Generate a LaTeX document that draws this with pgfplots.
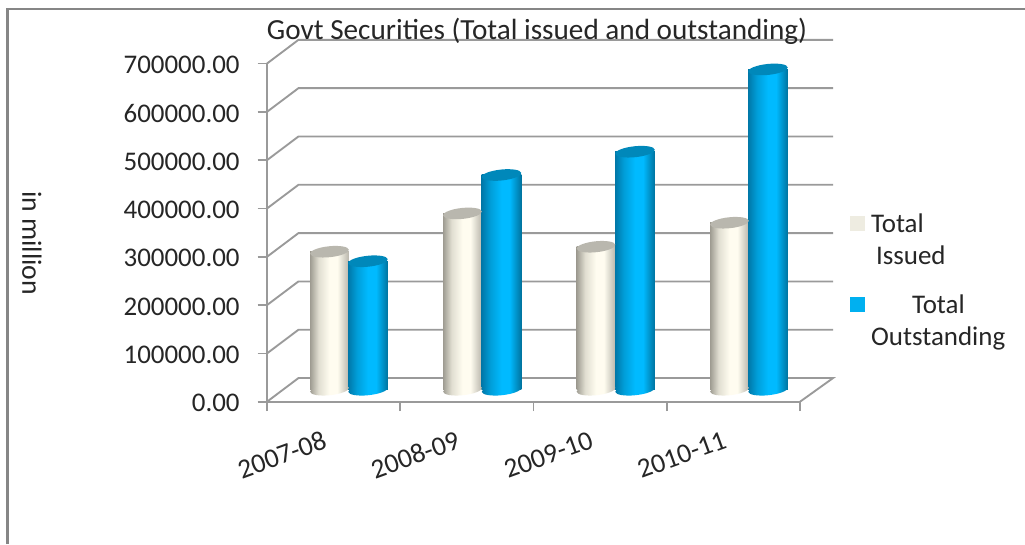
\documentclass[border=0pt]{standalone}
\usepackage{fontspec}
\setmainfont{Carlito}
\usepackage{pgfplots}
\pgfplotsset{compat=1.18}

\definecolor{axisgray}{HTML}{9A9A9A}
\definecolor{framegray}{HTML}{868686}
\definecolor{textdark}{HTML}{262626}
\definecolor{issuedkey}{HTML}{EEECE1}
\definecolor{outstandingkey}{HTML}{00B0F0}
\definecolor{issuedtop}{HTML}{B9B7AE}
\definecolor{outstandingtop}{HTML}{0088BA}

% Horizontal light falloff across a cylinder; the path spans 25bp to 75bp.
\pgfdeclarehorizontalshading{issuedcyl}{100bp}{
  rgb(0bp)=(0.62,0.61,0.57);
  rgb(25bp)=(0.62,0.61,0.57);
  rgb(36bp)=(0.88,0.87,0.82);
  rgb(50bp)=(1.00,0.99,0.94);
  rgb(60bp)=(1.00,0.99,0.94);
  rgb(75bp)=(0.72,0.71,0.67);
  rgb(100bp)=(0.72,0.71,0.67)}
\pgfdeclarehorizontalshading{outstandingcyl}{100bp}{
  rgb(0bp)=(0.00,0.47,0.66);
  rgb(25bp)=(0.00,0.47,0.66);
  rgb(36bp)=(0.00,0.62,0.85);
  rgb(50bp)=(0.00,0.73,1.00);
  rgb(60bp)=(0.00,0.73,1.00);
  rgb(75bp)=(0.00,0.45,0.62);
  rgb(100bp)=(0.00,0.45,0.62)}

% Cylinder ends, tilted slightly: flat-coloured tops and shaded bottoms.
\pgfdeclareplotmark{issuedcap}{%
  \pgfsetfillcolor{issuedtop}%
  \pgfpathellipse{\pgfpointorigin}{\pgfpoint{14.5pt}{1.5pt}}{\pgfpoint{-0.43pt}{4.08pt}}%
  \pgfusepathqfill}
\pgfdeclareplotmark{outstandingcap}{%
  \pgfsetfillcolor{outstandingtop}%
  \pgfpathellipse{\pgfpointorigin}{\pgfpoint{14.8pt}{1.55pt}}{\pgfpoint{-0.43pt}{4.08pt}}%
  \pgfusepathqfill}
\pgfdeclareplotmark{issuedfoot}{%
  \pgfpathellipse{\pgfpointorigin}{\pgfpoint{14.5pt}{1.5pt}}{\pgfpoint{-0.43pt}{4.08pt}}%
  \pgfshadepath{issuedcyl}{0}%
  \pgfusepath{discard}}
\pgfdeclareplotmark{outstandingfoot}{%
  \pgfpathellipse{\pgfpointorigin}{\pgfpoint{14.8pt}{1.55pt}}{\pgfpoint{-0.43pt}{4.08pt}}%
  \pgfshadepath{outstandingcyl}{0}%
  \pgfusepath{discard}}

\begin{document}
\begin{tikzpicture}
\path[use as bounding box,fill=white] (0,0) rectangle (768.75pt,408pt);
\draw[framegray,line width=1.6pt] (5.6pt,0pt) -- (5.6pt,401.2pt) -- (768.75pt,401.2pt);

% Front axis, tick numbers and the receding floor and back wall.
\begin{axis}[
  at={(200.25pt,106.7pt)}, anchor=south west,
  scale only axis, width=399.75pt, height=253.65pt,
  xmin=0, xmax=4, ymin=0, ymax=700000,
  clip=false,
  axis lines*=left,
  axis line style={-,axisgray,line width=1.4pt},
  tick style={axisgray,line width=1.2pt},
  tick align=outside,
  major tick length=7pt,
  font=\fontsize{20.2}{24}\selectfont\color{textdark},
  title={Govt Securities (Total issued and outstanding)},
  title style={at={(axis description cs:0.5066,1.096)},anchor=center,inner sep=0pt,yshift=0pt,
    font=\fontsize{21.9}{26}\selectfont\color{textdark}},
  every axis title shift=0pt,
  ylabel={in million},
  ylabel style={at={(axis description cs:-0.441,0.469)},rotate=180,anchor=center,inner sep=0pt,
    font=\fontsize{20.8}{24}\selectfont\color{textdark}},
  ytick={0,100000,200000,300000,400000,500000,600000,700000},
  scaled y ticks=false,
  yticklabel style={/pgf/number format/fixed,/pgf/number format/fixed zerofill,
    /pgf/number format/precision=2,/pgf/number format/1000 sep={},
    /pgf/number format/assume math mode=true,xshift=-10pt,yshift=-1pt},
  xtick={0,1,2,3,4},
  xticklabels={},
  extra x ticks={0.5,1.5,2.5,3.5},
  extra x tick labels={2007-08,2008-09,2009-10,2010-11},
  extra x tick style={major tick length=0pt,
    xticklabel style={xshift=-38.8pt,yshift=-39.8pt,rotate=20,anchor=center,
      font=\fontsize{20.6}{24}\selectfont\color{textdark}}},
]
\addplot[axisgray,line width=1.4pt,forget plot] coordinates {(0,0) (0.236,49000) (4.248,49000) (4,0)};
\addplot[axisgray,line width=1.4pt,forget plot] coordinates {(0,100000) (0.236,149000) (4.248,149000)};
\addplot[axisgray,line width=1.4pt,forget plot] coordinates {(0,200000) (0.236,249000) (4.248,249000)};
\addplot[axisgray,line width=1.4pt,forget plot] coordinates {(0,300000) (0.236,349000) (4.248,349000)};
\addplot[axisgray,line width=1.4pt,forget plot] coordinates {(0,400000) (0.236,449000) (4.248,449000)};
\addplot[axisgray,line width=1.4pt,forget plot] coordinates {(0,500000) (0.236,549000) (4.248,549000)};
\addplot[axisgray,line width=1.4pt,forget plot] coordinates {(0,600000) (0.236,649000) (4.248,649000)};
\addplot[axisgray,line width=1.4pt,forget plot] coordinates {(0,700000) (0.236,749000) (4.248,749000)};
\end{axis}

% Cylinders stand mid-depth on the floor, so their zero lies above the front edge.
\begin{axis}[
  at={(200.25pt,106.7pt)}, anchor=south west,
  scale only axis, width=399.75pt, height=253.65pt,
  xmin=-0.613, xmax=3.387, ymin=-24800, ymax=675200,
  clip=false, axis lines=none,
  legend cell align=left,
  legend image code/.code={\fill[#1] (0pt,7pt) rectangle (10.5pt,17.5pt);},
  legend style={at={(rel axis cs:1.093,0.556)},anchor=north west,draw=none,fill=none,
    font=\fontsize{20.2}{24}\selectfont\color{textdark},row sep=21pt,
    inner sep=0pt,outer sep=0pt,
    /tikz/column 1/.style={column sep=5.25pt},
    nodes={align=left,inner sep=0pt}},
]
\addplot[forget plot,only marks,mark=issuedfoot] coordinates {(-0.144,0) (0.854,0) (1.856,0) (2.858,0)};
\addplot[forget plot,ybar,bar shift=0pt,bar width=29.2pt,draw=none,shading=issuedcyl] coordinates {(-0.144,285700)};
\addplot[forget plot,ybar,bar shift=0pt,bar width=29.2pt,draw=none,shading=issuedcyl] coordinates {(0.854,365000)};
\addplot[forget plot,ybar,bar shift=0pt,bar width=29.2pt,draw=none,shading=issuedcyl] coordinates {(1.856,296000)};
\addplot[forget plot,ybar,bar shift=0pt,bar width=29.2pt,draw=none,shading=issuedcyl] coordinates {(2.858,345700)};
\addplot[forget plot,only marks,mark=issuedcap] coordinates {(-0.144,285700) (0.854,365000) (1.856,296000) (2.858,345700)};

\addplot[forget plot,only marks,mark=outstandingfoot] coordinates {(0.145,0) (1.147,0) (2.149,0) (3.147,0)};
\addplot[forget plot,ybar,bar shift=0pt,bar width=29.8pt,draw=none,shading=outstandingcyl] coordinates {(0.145,266000)};
\addplot[forget plot,ybar,bar shift=0pt,bar width=29.8pt,draw=none,shading=outstandingcyl] coordinates {(1.147,444500)};
\addplot[forget plot,ybar,bar shift=0pt,bar width=29.8pt,draw=none,shading=outstandingcyl] coordinates {(2.149,492700)};
\addplot[forget plot,ybar,bar shift=0pt,bar width=29.8pt,draw=none,shading=outstandingcyl] coordinates {(3.147,663000)};
\addplot[forget plot,only marks,mark=outstandingcap] coordinates {(0.145,266000) (1.147,444500) (2.149,492700) (3.147,663000)};

\addlegendimage{issuedkey}
\addlegendentry{Total\\\hspace*{3.7pt}Issued}
\addlegendimage{outstandingkey}
\addlegendentry{\hspace*{30.7pt}Total\\Outstanding}
\end{axis}
\end{tikzpicture}
\end{document}
